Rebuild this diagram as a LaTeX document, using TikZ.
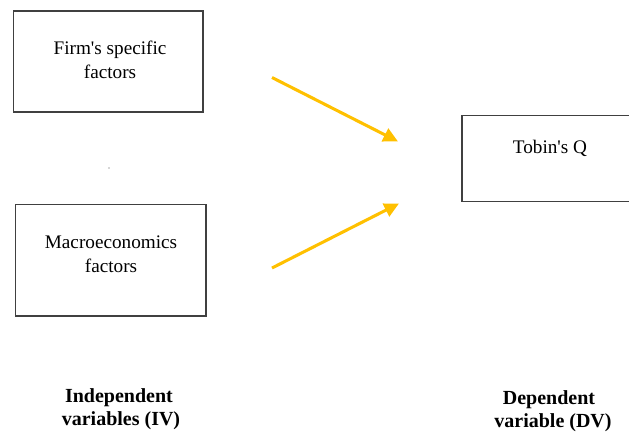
\documentclass[tikz,border=0pt]{standalone}
\usepackage{fontspec}
\setmainfont{Liberation Serif}[Ligatures=NoCommon]
\newfontfamily\tnr{Liberation Serif}
\usetikzlibrary{arrows.meta}
\definecolor{gold}{HTML}{FFC000}
\definecolor{boxline}{HTML}{404040}
\newcommand{\apos}{\char"0027\relax}
\begin{document}
\begin{tikzpicture}[x=0.75pt,y=-0.75pt,
  boxstyle/.style={draw=boxline,line width=1pt},
  boxtext/.style={align=center,inner sep=0pt,font=\tnr\fontsize{14.4}{18}\selectfont},
  labeltext/.style={align=center,inner sep=0pt,font=\tnr\bfseries\fontsize{15}{17.3}\selectfont},
  goldarrow/.style={draw=gold,line width=2.3pt,-{Triangle[length=11pt,width=10.5pt]}}]
\useasboundingbox (0,0) rectangle (629,432);
\clip (0,0) rectangle (629,432);
% boxes
\draw[boxstyle] (13.5,11) rectangle (203,112);
\draw[boxstyle] (15.5,204.5) rectangle (206,316);
\draw[boxstyle] (462,115.5) rectangle (640,201.5);
% box texts
\node[boxtext] (firm) at (110,60) {Firm\apos s specific\\factors};
\node[boxtext] (macro) at (111,254) {Macroeconomics\\factors};
\node[boxtext] (tobin) at (550,148.5) {Tobin\apos s Q};
% arrows
\coordinate (a1s) at (272,77.5);
\coordinate (a1e) at (398,141.5);
\coordinate (a2s) at (272,268);
\coordinate (a2e) at (399,203.5);
\draw[goldarrow] (a1s) -- (a1e);
\draw[goldarrow] (a2s) -- (a2e);
% speck
\fill[black!70] (109,168) circle (0.7);
% labels
\node[labeltext] (iv) at (121,409) {Independent\hspace*{3pt}\\variables (IV)};
\node[labeltext] (dv) at (553,411.5) {Dependent\hspace*{6pt}\\variable (DV)};
\end{tikzpicture}
\end{document}
